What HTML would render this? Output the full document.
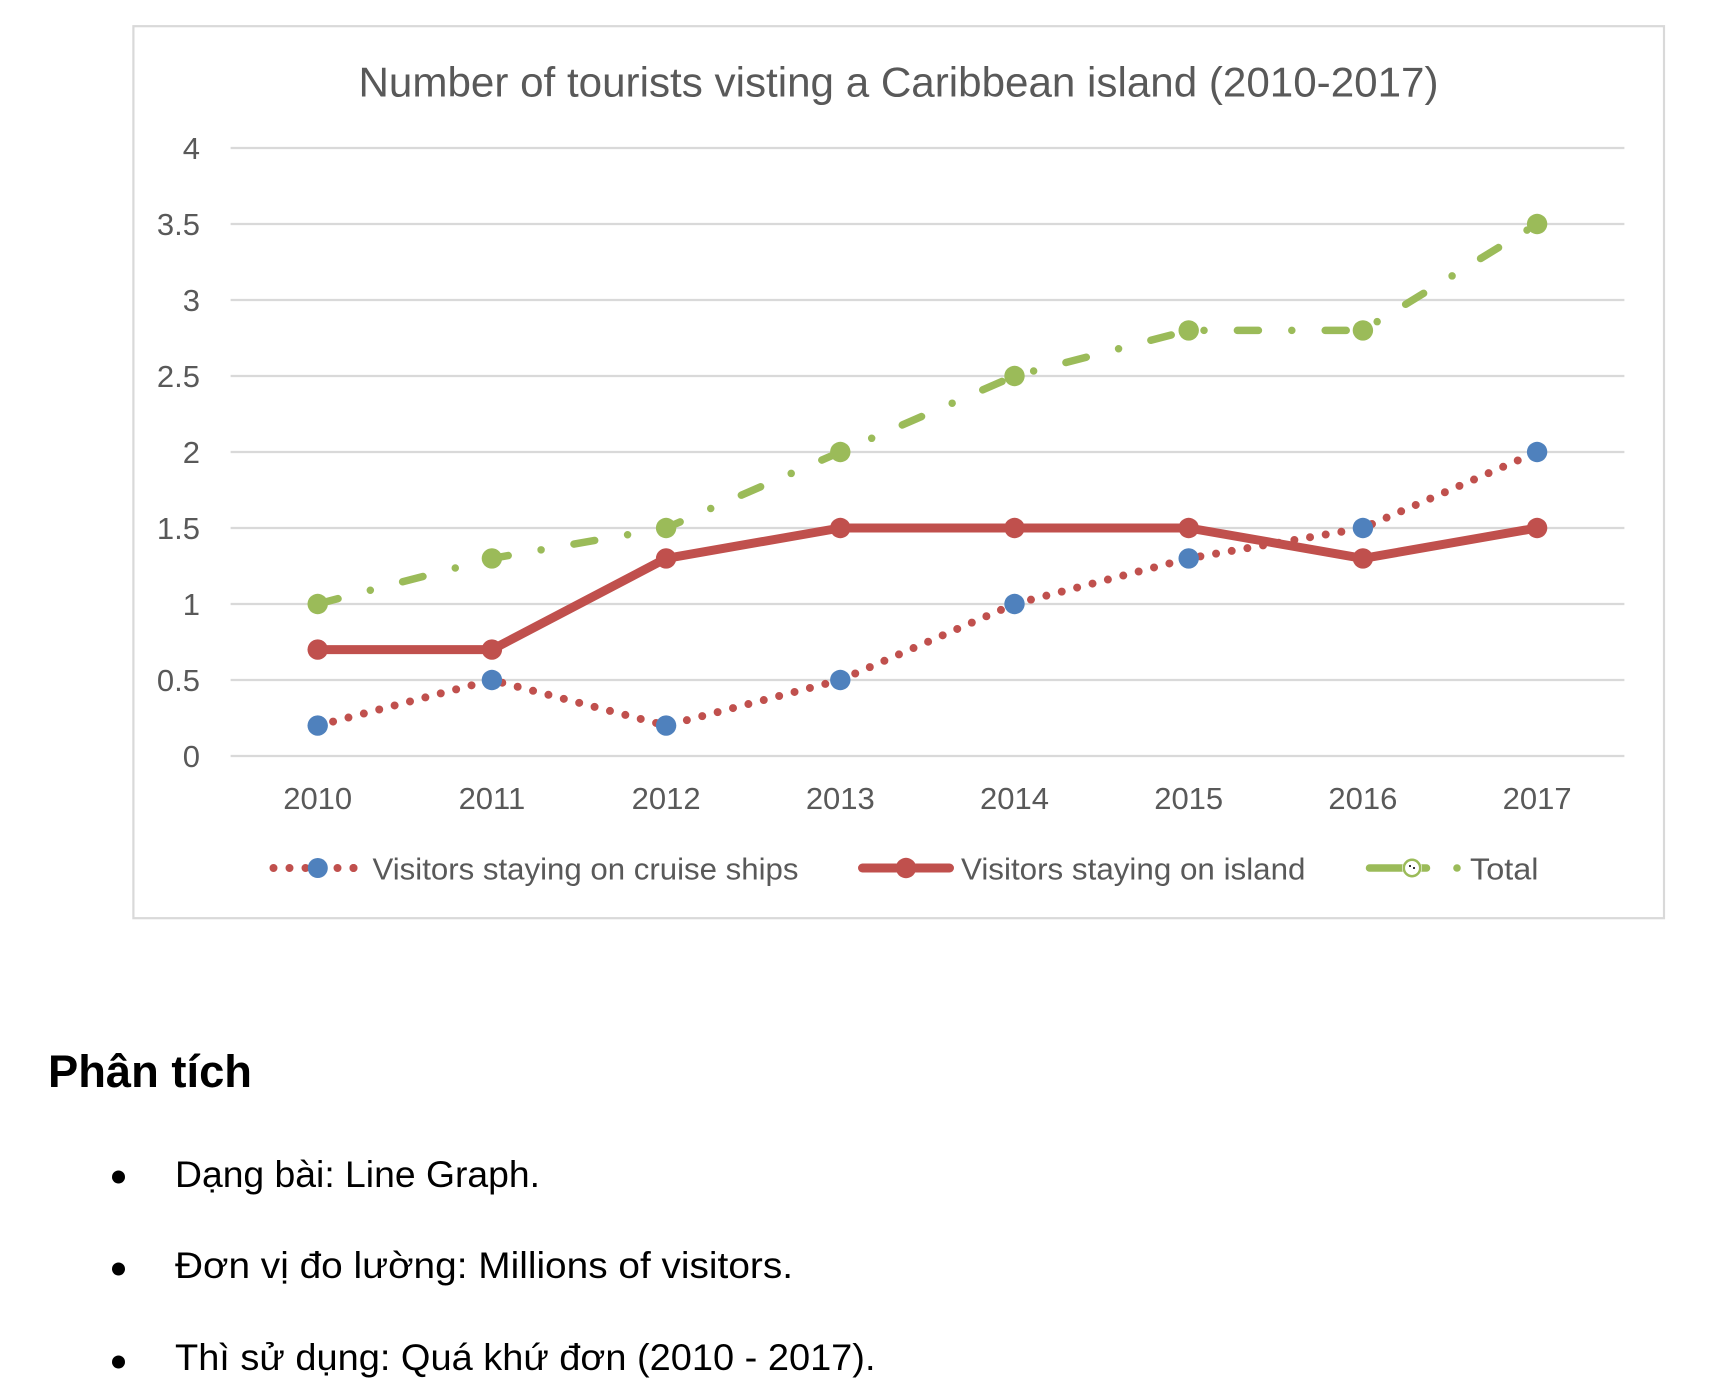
<!DOCTYPE html>
<html>
<head>
<meta charset="utf-8">
<style>
  html, body { margin: 0; padding: 0; background: #ffffff; }
  svg { display: block; }
</style>
</head>
<body>
<svg width="1714" height="1382" viewBox="0 0 1714 1382" xmlns="http://www.w3.org/2000/svg">
  <rect x="0" y="0" width="1714" height="1382" fill="#ffffff"/>
  <!-- chart border -->
  <rect x="133.4" y="26.2" width="1530.6" height="892" fill="#ffffff" stroke="#d9d9d9" stroke-width="2.2"/>

  <!-- title -->
  <text x="898.5" y="96.5" text-anchor="middle" font-family="Liberation Sans, sans-serif" font-size="42" fill="#595959" textLength="1080" lengthAdjust="spacingAndGlyphs">Number of tourists visting a Caribbean island (2010-2017)</text>

  <!-- gridlines -->
  <g stroke="#d9d9d9" stroke-width="2.2">
    <line x1="230.6" y1="148" x2="1624.4" y2="148"/>
    <line x1="230.6" y1="224" x2="1624.4" y2="224"/>
    <line x1="230.6" y1="300" x2="1624.4" y2="300"/>
    <line x1="230.6" y1="376" x2="1624.4" y2="376"/>
    <line x1="230.6" y1="452" x2="1624.4" y2="452"/>
    <line x1="230.6" y1="528" x2="1624.4" y2="528"/>
    <line x1="230.6" y1="604" x2="1624.4" y2="604"/>
    <line x1="230.6" y1="680" x2="1624.4" y2="680"/>
    <line x1="230.6" y1="756" x2="1624.4" y2="756"/>
  </g>

  <!-- y labels -->
  <g font-family="Liberation Sans, sans-serif" font-size="31" fill="#595959" text-anchor="end">
    <text x="200" y="159">4</text>
    <text x="200" y="235">3.5</text>
    <text x="200" y="311">3</text>
    <text x="200" y="387">2.5</text>
    <text x="200" y="463">2</text>
    <text x="200" y="539">1.5</text>
    <text x="200" y="615">1</text>
    <text x="200" y="691">0.5</text>
    <text x="200" y="767">0</text>
  </g>

  <!-- x labels -->
  <g font-family="Liberation Sans, sans-serif" font-size="31" fill="#595959" text-anchor="middle">
    <text x="317.7" y="809">2010</text>
    <text x="491.9" y="809">2011</text>
    <text x="666.1" y="809">2012</text>
    <text x="840.3" y="809">2013</text>
    <text x="1014.5" y="809">2014</text>
    <text x="1188.7" y="809">2015</text>
    <text x="1362.9" y="809">2016</text>
    <text x="1537.1" y="809">2017</text>
  </g>

  <!-- Series 1: cruise ships (red dotted, blue markers) -->
  <polyline points="317.7,725.6 491.9,680 666.1,725.6 840.3,680 1014.5,604 1188.7,558.4 1362.9,528 1537.1,452"
    fill="none" stroke="#c0504d" stroke-width="8" stroke-linecap="round" stroke-linejoin="round" stroke-dasharray="0 15.9"/>
  <g fill="#4f81bd">
    <circle cx="317.7" cy="725.6" r="10.2"/>
    <circle cx="491.9" cy="680" r="10.2"/>
    <circle cx="666.1" cy="725.6" r="10.2"/>
    <circle cx="840.3" cy="680" r="10.2"/>
    <circle cx="1014.5" cy="604" r="10.2"/>
    <circle cx="1188.7" cy="558.4" r="10.2"/>
    <circle cx="1362.9" cy="528" r="10.2"/>
    <circle cx="1537.1" cy="452" r="10.2"/>
  </g>

  <!-- Series 2: island (red solid) -->
  <polyline points="317.7,649.6 491.9,649.6 666.1,558.4 840.3,528 1014.5,528 1188.7,528 1362.9,558.4 1537.1,528"
    fill="none" stroke="#c0504d" stroke-width="9" stroke-linecap="round" stroke-linejoin="round"/>
  <g fill="#c0504d">
    <circle cx="317.7" cy="649.6" r="10.2"/>
    <circle cx="491.9" cy="649.6" r="10.2"/>
    <circle cx="666.1" cy="558.4" r="10.2"/>
    <circle cx="840.3" cy="528" r="10.2"/>
    <circle cx="1014.5" cy="528" r="10.2"/>
    <circle cx="1188.7" cy="528" r="10.2"/>
    <circle cx="1362.9" cy="558.4" r="10.2"/>
    <circle cx="1537.1" cy="528" r="10.2"/>
  </g>

  <!-- Series 3: total (green dash-dot) -->
  <polyline points="317.7,604 491.9,558.4 666.1,528 840.3,452 1014.5,376 1188.7,330.4 1362.9,330.4 1537.1,224"
    fill="none" stroke="#9bbb59" stroke-width="7.5" stroke-linecap="round" stroke-linejoin="round" stroke-dasharray="21 33.4 0 33.4"/>
  <g fill="#9bbb59">
    <circle cx="317.7" cy="604" r="10.2"/>
    <circle cx="491.9" cy="558.4" r="10.2"/>
    <circle cx="666.1" cy="528" r="10.2"/>
    <circle cx="840.3" cy="452" r="10.2"/>
    <circle cx="1014.5" cy="376" r="10.2"/>
    <circle cx="1188.7" cy="330.4" r="10.2"/>
    <circle cx="1362.9" cy="330.4" r="10.2"/>
    <circle cx="1537.1" cy="224" r="10.2"/>
  </g>

  <!-- Legend -->
  <line x1="273.5" y1="868" x2="354.5" y2="868" stroke="#c0504d" stroke-width="8" stroke-linecap="round" stroke-dasharray="0 16"/>
  <circle cx="353.5" cy="868" r="4" fill="#c0504d"/>
  <circle cx="317.8" cy="868" r="10" fill="#4f81bd"/>
  <text x="372.5" y="879.5" font-family="Liberation Sans, sans-serif" font-size="31" fill="#595959" textLength="426" lengthAdjust="spacingAndGlyphs">Visitors staying on cruise ships</text>

  <line x1="862.5" y1="868" x2="949.5" y2="868" stroke="#c0504d" stroke-width="9" stroke-linecap="round"/>
  <circle cx="906" cy="868" r="10.2" fill="#c0504d"/>
  <text x="961" y="879.5" font-family="Liberation Sans, sans-serif" font-size="31" fill="#595959" textLength="344.5" lengthAdjust="spacingAndGlyphs">Visitors staying on island</text>

  <line x1="1369.5" y1="868" x2="1426.5" y2="868" stroke="#9bbb59" stroke-width="7.5" stroke-linecap="round"/>
  <circle cx="1412" cy="868" r="10" fill="#ffffff"/>
  <circle cx="1412" cy="868" r="8.2" fill="#ffffff" stroke="#9bbb59" stroke-width="2.5"/>
  <rect x="1409" y="865" width="2" height="2" fill="#333"/>
  <rect x="1413" y="867" width="2" height="2" fill="#333"/>
  <circle cx="1457" cy="868" r="3.8" fill="#9bbb59"/>
  <text x="1470" y="879.5" font-family="Liberation Sans, sans-serif" font-size="31" fill="#595959" textLength="68.5" lengthAdjust="spacingAndGlyphs">Total</text>

  <!-- Bottom text -->
  <text x="48" y="1087" font-family="Liberation Sans, sans-serif" font-size="45" font-weight="bold" fill="#000000" textLength="204" lengthAdjust="spacingAndGlyphs">Phân tích</text>

  <circle cx="118.5" cy="1177" r="6.5" fill="#000000"/>
  <text x="175" y="1187" font-family="Liberation Sans, sans-serif" font-size="37" fill="#000000" textLength="365" lengthAdjust="spacingAndGlyphs">Dạng bài: Line Graph.</text>

  <circle cx="118.5" cy="1269" r="6.5" fill="#000000"/>
  <text x="175" y="1278" font-family="Liberation Sans, sans-serif" font-size="37" fill="#000000" textLength="618" lengthAdjust="spacingAndGlyphs">Đơn vị đo lường: Millions of visitors.</text>

  <circle cx="118.5" cy="1362" r="6.5" fill="#000000"/>
  <text x="175" y="1370" font-family="Liberation Sans, sans-serif" font-size="37" fill="#000000" textLength="700.5" lengthAdjust="spacingAndGlyphs">Thì sử dụng: Quá khứ đơn (2010 - 2017).</text>
</svg>
</body>
</html>
